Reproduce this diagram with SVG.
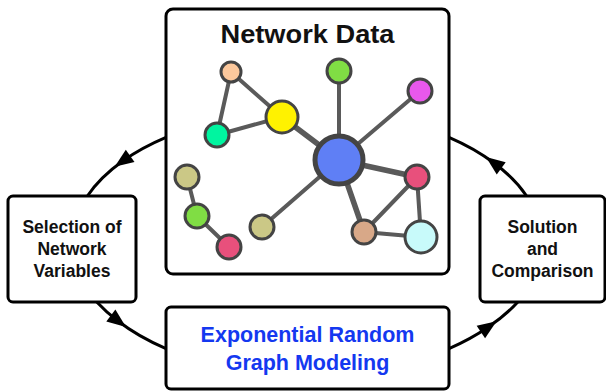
<svg xmlns="http://www.w3.org/2000/svg" width="606" height="391" viewBox="0 0 606 391">
<defs>
<marker id="arr" markerUnits="userSpaceOnUse" markerWidth="24" markerHeight="24" viewBox="-12 -12 24 24" refX="0" refY="0" orient="auto">
<path d="M-9,-7.5 L10,0 L-9,7.5 Z" fill="#000"/>
</marker>
<style>
.box{fill:#fff;stroke:#000;stroke-width:3}
.lbl{font-family:"Liberation Sans",Arial,sans-serif;font-weight:bold;fill:#111;text-anchor:middle}
.cyc{fill:none;stroke:#000;stroke-width:3;marker-mid:url(#arr)}
.e{stroke:#5a5a5a;stroke-width:4;stroke-linecap:round}
.et{stroke:#5a5a5a;stroke-width:5.5;stroke-linecap:round}
.n{stroke:#444;stroke-width:3}
</style>
</defs>
<rect width="606" height="391" fill="#fff"/>
<g id="connectors">
<path class="cyc" d="M166,137.4 A235,132 0 0 0 122.8,161 A235,132 0 0 0 87.4,196"/>
<path class="cyc" d="M96.8,302 A235,132 0 0 0 118,321 A235,132 0 0 0 166,348.6"/>
<path class="cyc" d="M449,348.6 A235,132 0 0 0 488.3,327 A235,132 0 0 0 517.8,302"/>
<path class="cyc" d="M526.6,196 A235,132 0 0 0 494,163 A235,132 0 0 0 449,137.4"/>
</g>
<g id="network-data">
<rect class="box" x="166" y="9" width="283" height="265" rx="7"/>
<text class="lbl" x="307.5" y="43" font-size="26" textLength="174" lengthAdjust="spacingAndGlyphs">Network Data</text>
<g id="edges">
<line class="e" x1="231" y1="72" x2="282" y2="117"/>
<line class="e" x1="231" y1="72" x2="217" y2="135"/>
<line class="e" x1="217" y1="135" x2="282" y2="117"/>
<line class="et" x1="282" y1="117" x2="339" y2="160"/>
<line class="e" x1="339" y1="71" x2="339" y2="160"/>
<line class="e" x1="420" y1="91" x2="339" y2="160"/>
<line class="e" x1="262" y1="227" x2="339" y2="160"/>
<line class="et" x1="417" y1="177" x2="339" y2="160"/>
<line class="et" x1="364" y1="232" x2="339" y2="160"/>
<line class="e" x1="417" y1="177" x2="364" y2="232"/>
<line class="e" x1="417" y1="177" x2="421" y2="237"/>
<line class="e" x1="364" y1="232" x2="421" y2="237"/>
<line class="e" x1="187" y1="177" x2="197" y2="216"/>
<line class="e" x1="197" y1="216" x2="229" y2="247"/>
</g>
<circle class="n" cx="231" cy="72" r="10" fill="#fcc89c"/>
<circle class="n" cx="282" cy="117" r="16" fill="#fff200"/>
<circle class="n" cx="217" cy="135" r="12" fill="#00f5a0"/>
<circle class="n" cx="339" cy="71" r="12" fill="#80dd44"/>
<circle class="n" cx="420" cy="91" r="12" fill="#e858ec"/>
<circle cx="339" cy="160" r="24" fill="#5f7ff5" stroke="#444" stroke-width="5"/>
<circle class="n" cx="417" cy="177" r="12" fill="#e8507c"/>
<circle class="n" cx="421" cy="237" r="16" fill="#c8fafa"/>
<circle class="n" cx="364" cy="232" r="12" fill="#d8a888"/>
<circle class="n" cx="187" cy="177" r="12" fill="#cbc886"/>
<circle class="n" cx="197" cy="216" r="12" fill="#80dd44"/>
<circle class="n" cx="229" cy="247" r="12" fill="#e8507c"/>
<circle class="n" cx="262" cy="227" r="12" fill="#cbc886"/>
</g>
<g id="selection">
<rect class="box" x="8" y="196" width="128" height="106" rx="5"/>
<text class="lbl" x="72" y="233" font-size="17.5">Selection of</text>
<text class="lbl" x="72" y="255" font-size="17.5">Network</text>
<text class="lbl" x="72" y="277" font-size="17.5">Variables</text>
</g>
<g id="solution">
<rect class="box" x="480" y="196" width="125" height="106" rx="5"/>
<text class="lbl" x="542.5" y="233" font-size="17.5">Solution</text>
<text class="lbl" x="542.5" y="255" font-size="17.5">and</text>
<text class="lbl" x="542.5" y="277" font-size="17.5">Comparison</text>
</g>
<g id="ergm">
<rect class="box" x="166" y="307" width="283" height="82" rx="5"/>
<text class="lbl" x="307.5" y="342" font-size="21.5" style="fill:#1438f0">Exponential Random</text>
<text class="lbl" x="307.5" y="370" font-size="21.5" style="fill:#1438f0">Graph Modeling</text>
</g>
</svg>
